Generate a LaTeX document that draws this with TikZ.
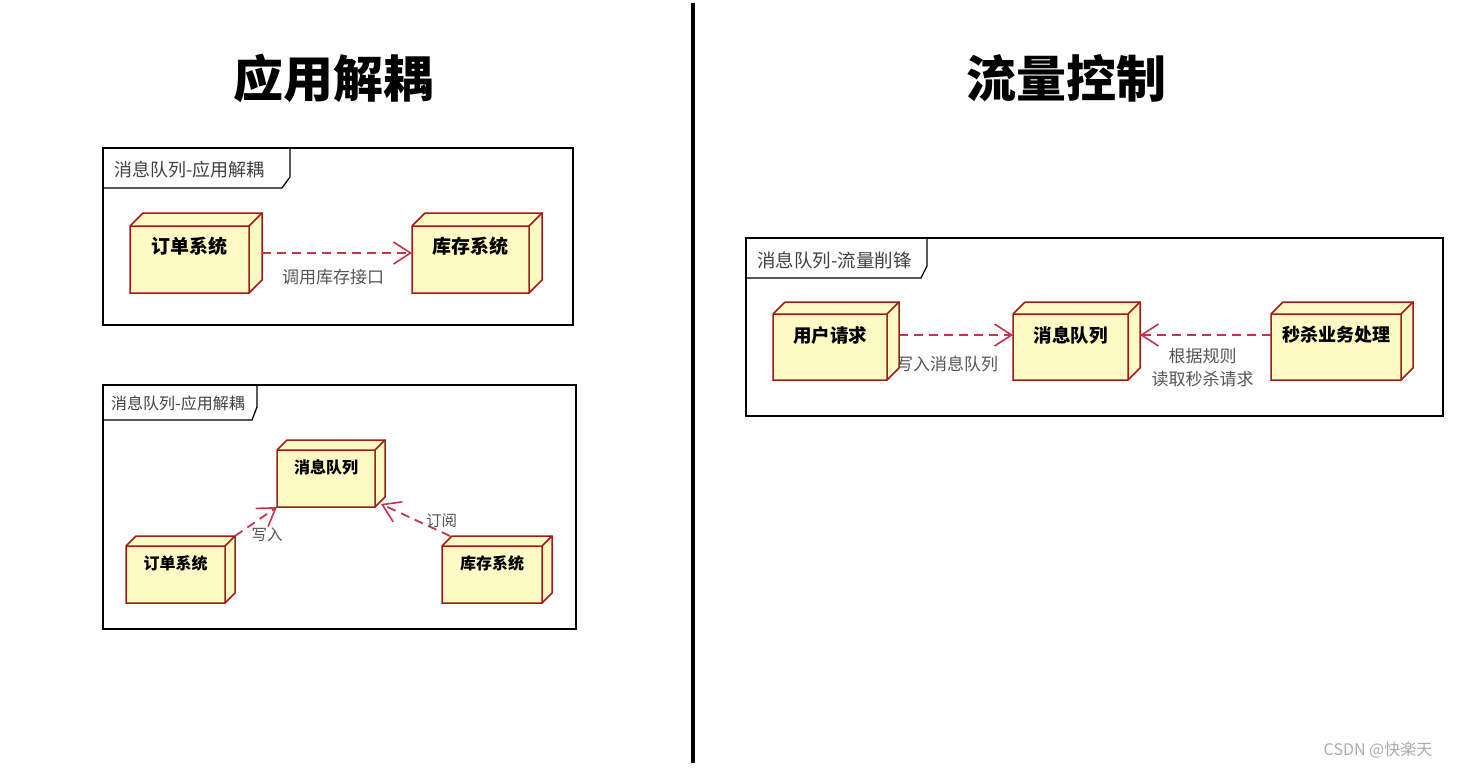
\documentclass[tikz,border=0pt]{standalone}
\usepackage{fontspec}
\setmainfont{Noto Sans CJK SC}
\usetikzlibrary{calc,arrows.meta}
\definecolor{boxfill}{RGB}{253,251,195}
\definecolor{boxline}{RGB}{165,25,25}
\definecolor{deparrow}{RGB}{200,50,75}
\definecolor{lblgray}{RGB}{85,85,85}
\definecolor{tabgray}{RGB}{65,65,65}
\tikzset{
  cubebox/.style={rectangle,inner sep=0pt,outer sep=0pt},
  cubeline/.style={draw=boxline,line width=1.5pt,fill=boxfill,line join=miter},
  cubetext/.style={font=\bfseries\fontsize{#1}{#1}\selectfont,inner sep=0pt},
  frame/.style={draw=black,line width=1.3pt,rectangle,inner sep=0pt},
  tabline/.style={draw=black,line width=1.3pt},
  tabtext/.style={text=tabgray,font=\fontsize{#1}{#1}\selectfont,inner sep=0pt,anchor=west},
  dep/.style={draw=deparrow,line width=1.8pt,dash pattern=on 9pt off 6pt,
    -{Straight Barb[length=17pt,width=22pt,line width=1.6pt]}},
  lbl/.style={text=lblgray,font=\fontsize{#1}{#1}\selectfont,inner sep=0pt},
  title/.style={font=\bfseries\fontsize{50pt}{56pt}\selectfont,inner sep=0pt},
}
% #1 name, #2 x, #3 y, #4 width, #5 height, #6 depth, #7 text offset, #8 font size, #9 text
\newcommand\cubenode[9]{%
  \node[cubebox,minimum width=#4pt,minimum height=#5pt] (#1) at (#2,#3) {};
  \path[cubeline] (#1.south west) -- ($(#1.north west)+(0,#6)$) -- ($(#1.north west)+(#6,0)$)
    -- (#1.north east) -- ($(#1.south east)+(0,-#6)$) -- ($(#1.south east)+(-#6,0)$) -- cycle;
  \draw[draw=boxline,line width=1.5pt] ($(#1.north west)+(0,#6)$) -- ($(#1.north east)+(-#6,#6)$)
    -- ($(#1.south east)+(-#6,0)$) ($(#1.north east)+(-#6,#6)$) -- (#1.north east);
  \node[cubetext=#8] (#1-t) at ($(#1.north)+(-#6/2,#7)$) {#9};
}
\begin{document}
\begin{tikzpicture}[x=1pt,y=-1pt]
\fill[white] (0,0) rectangle (1459,769);
\useasboundingbox (0,0) rectangle (1459,769);

% titles and divider
\node[title] (t1) at (333,78) {应用解耦};
\node[title] (t2) at (1066,78) {流量控制};
\draw[line width=4pt] (693,3) -- (693,763);

% ---------- frame 1 ----------
\node[frame,minimum width=470pt,minimum height=177pt] (f1) at (338,236.5) {};
\draw[tabline] (103,188) -- (282,188) -- (290,177) -- (290,148);
\node[tabtext=18pt] (f1-tab) at (114,170) {消息队列-应用解耦};
\cubenode{o1}{196}{253}{132}{80}{13}{33}{19pt}{订单系统}
\cubenode{k1}{477}{253}{130}{80}{13}{33}{19pt}{库存系统}
\draw[dep] (o1.east) -- (k1.west) node[lbl=17pt,midway,yshift=-24pt,xshift=-4pt] (l1) {调用库存接口};

% ---------- frame 2 ----------
\node[frame,minimum width=473pt,minimum height=244pt] (f2) at (339.5,507) {};
\draw[tabline] (103,420) -- (252,420) -- (257,407) -- (257,385);
\node[tabtext=16pt] (f2-tab) at (111,403) {消息队列-应用解耦};
\cubenode{q2}{331}{473.5}{108}{67}{10}{27}{16pt}{消息队列}
\cubenode{o2}{180.5}{569.5}{109}{67}{10}{27}{16pt}{订单系统}
\cubenode{k2}{497}{569.5}{110}{67}{10}{27}{16pt}{库存系统}
\draw[dep] (o2.north east) -- (q2.south west) node[lbl=15.5pt,midway,xshift=11pt,yshift=-13pt] (l2) {写入};
\draw[dep] ([xshift=8pt]k2.north west) -- ([xshift=-4pt,yshift=3pt]q2.south east) node[lbl=15.5pt,midway,xshift=26pt,yshift=-1pt] (l3) {订阅};

% ---------- frame 3 ----------
\node[frame,minimum width=697pt,minimum height=178pt] (f3) at (1094.5,327) {};
\draw[tabline] (746,278) -- (921,278) -- (927,266) -- (927,238);
\node[tabtext=18.5pt] (f3-tab) at (757,260) {消息队列-流量削锋};
\draw[dep] (899,335) -- (1013,335) node[lbl=17pt,midway,xshift=-9pt,yshift=-29pt] (l4) {写入消息队列};
\cubenode{u3}{836}{341}{126}{78}{12}{33}{18.5pt}{用户请求}
\cubenode{q3}{1076.5}{341}{127}{78}{12}{33}{18.5pt}{消息队列}
\cubenode{s3}{1342}{341}{142}{78}{12}{33}{18pt}{秒杀业务处理}
\draw[dep] ([yshift=6pt]s3.west) -- ([yshift=6pt]q3.east)
  node[lbl=17pt,midway,yshift=-33pt,xshift=-3pt,align=center] (l5) {根据规则\\[6pt]读取秒杀请求};

% watermark
\node[text=gray!65,font=\fontsize{16pt}{16pt}\selectfont,inner sep=0pt] (wm) at (1378,750) {CSDN @快楽天};
\end{tikzpicture}
\end{document}
